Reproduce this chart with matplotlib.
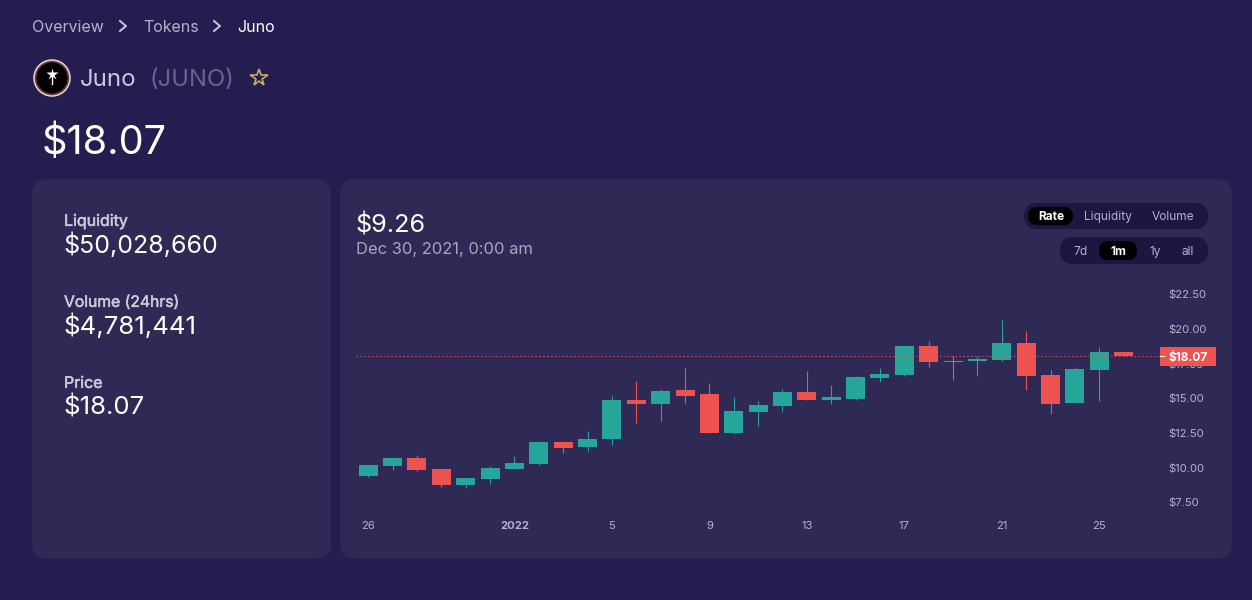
# Juno token page, candlestick chart with the page furniture around it
import matplotlib
matplotlib.use('Agg')
import matplotlib.pyplot as plt
import matplotlib.patheffects as pe
from matplotlib.patches import FancyBboxPatch, Circle, Rectangle

plt.rcParams['font.family'] = ['Inter', 'DejaVu Sans']

# daily candles, Dec 26 2021 to Jan 26 2022
opens = [9.42, 10.15, 10.70, 9.91, 8.78, 9.21, 9.93, 10.29, 11.85, 11.52, 12.09, 14.88, 14.62, 15.60, 15.31, 12.52,
         14.04, 14.47, 15.46, 14.90, 14.97, 16.49, 16.70, 18.77, 17.69, 17.71, 17.79, 18.99, 16.68, 14.69, 17.07, 18.34]
closes = [10.19, 10.70, 9.86, 8.78, 9.26, 9.98, 10.34, 11.85, 11.44, 12.07, 14.88, 14.62, 15.53, 15.19, 12.52, 14.09,
          14.52, 15.46, 14.90, 15.09, 16.54, 16.75, 18.77, 17.64, 17.64, 17.83, 18.99, 16.63, 14.61, 17.11, 18.34, 18.07]
highs = [10.19, 10.77, 10.91, 9.91, 9.26, 10.12, 10.84, 11.92, 11.92, 12.65, 15.17, 16.25, 15.67, 17.19, 16.11, 15.10,
         14.81, 15.67, 16.97, 15.96, 16.61, 17.19, 18.77, 19.13, 18.05, 18.05, 20.65, 19.85, 17.04, 17.26, 18.70, 18.34]
lows = [9.35, 9.86, 9.76, 8.63, 8.56, 8.85, 9.93, 10.19, 11.08, 11.23, 11.66, 13.25, 13.39, 14.69, 12.52, 12.45,
        13.03, 14.11, 14.90, 14.61, 14.90, 16.20, 16.63, 17.28, 16.34, 16.63, 17.71, 15.62, 13.89, 14.69, 14.83, 18.07]
x_ticks = [0, 6, 10, 14, 18, 22, 26, 30]
x_labels = ['26', '2022', '5', '9', '13', '17', '21', '25']
y_ticks = [7.5, 10, 12.5, 15, 17.5, 20, 22.5]
last_price = 18.07

PAGE = '#241e50'
PANEL = '#2f2955'
PILL = '#1e1640'
TEAL = '#26a69a'
RED = '#ef5350'
MUTED = '#b5b2cb'

W, H = 1252, 600
fig = plt.figure(figsize=(W / 100, H / 100), dpi=100, facecolor=PAGE)

# page layer in pixel coordinates
page = fig.add_axes([0, 0, 1, 1])
page.set_xlim(0, W)
page.set_ylim(H, 0)
page.axis('off')


def box(x0, y0, x1, y1, r, color):
    page.add_patch(FancyBboxPatch((x0 + r, y0 + r), x1 - x0 - 2 * r, y1 - y0 - 2 * r,
                                  boxstyle='round,pad=%d,rounding_size=%d' % (r, r),
                                  fc=color, ec='none', lw=0))


def label(x, y, s, size, color='white', ha='left', weight='normal', thick=False):
    # va center sits a bit high for this font, so nudge by size
    t = page.text(x, y + size * 0.12, s, fontsize=size, color=color, ha=ha, va='center', fontweight=weight)
    if thick:
        t.set_path_effects([pe.withStroke(linewidth=0.4, foreground=color)])


box(32, 179, 331, 559, 16, PANEL)
box(340, 179, 1232, 559, 16, PANEL)

# breadcrumb
label(32, 26, 'Overview', 11.5, MUTED)
label(143, 26, 'Tokens', 11.5, MUTED)
label(237, 26, 'Juno', 11.5, 'white')
for cx in [123, 217]:
    page.plot([cx - 3, cx + 3, cx - 3], [21, 26, 31], color='#c9c7d8', lw=1.4)

# title row
page.add_patch(Circle((52, 78), 18, fc='#6b3a3a', ec='#e6d8d4', lw=1.1))
page.add_patch(Circle((52, 78), 15.5, fc='black', ec='none'))
page.plot([52], [74], marker='*', ms=9, color='white', mec='none')
page.plot([52, 52], [76, 84], color='white', lw=1)
label(80, 78, 'Juno', 17.3, '#c9c7e0')
label(149.5, 78, '(JUNO)', 17.1, '#68648c')
page.plot([259], [78], marker='*', ms=13, mfc='none', mec='#c8a96a', mew=1.2)
label(42, 140, '$18.07', 28.6)

# left card
label(64, 220, 'Liquidity', 11.5, '#c9c7d8', thick=True)
label(63, 243.5, '$50,028,660', 18)
label(64, 301, 'Volume (24hrs)', 11.3, '#c9c7d8', thick=True)
label(63, 324.5, '$4,781,441', 18.6)
label(64, 382, 'Price', 11.5, '#c9c7d8', thick=True)
label(63, 405, '$18.07', 18.6)

# chart header
label(355, 223, '$9.26', 18.2)
label(356, 248, 'Dec 30, 2021, 0:00 am', 11.9, '#a9a6c0')

# toggles
box(1024, 203, 1208, 229, 13, PILL)
box(1028, 207, 1073, 225, 9, 'black')
label(1051, 216, 'Rate', 8.6, 'white', 'center', 'bold')
label(1108, 216, 'Liquidity', 8.6, MUTED, 'center')
label(1173, 216, 'Volume', 8.6, MUTED, 'center')
box(1060, 237, 1208, 264, 13, PILL)
box(1099, 241, 1137, 260, 9, 'black')
label(1081, 251, '7d', 8.6, MUTED, 'center')
label(1118, 251, '1m', 8.6, 'white', 'center', 'bold')
label(1155, 251, '1y', 8.6, MUTED, 'center')
label(1188, 251, 'all', 8.6, MUTED, 'center')

# chart layer, 356-1160 px across and 280-520 px down
ax = fig.add_axes([356 / W, 1 - 520 / H, (1160 - 356) / W, (520 - 280) / H])
ax.patch.set_alpha(0)
for s in ax.spines.values():
    s.set_visible(False)
ax.set_xlim(-0.5, 32.49)
ax.set_ylim(6.23, 23.53)

for i in range(len(opens)):
    c = TEAL if closes[i] > opens[i] else RED
    ax.vlines(i, lows[i], highs[i], color=c, lw=0.8, zorder=2)
    ax.bar(i, abs(closes[i] - opens[i]), bottom=min(opens[i], closes[i]), width=0.78, color=c, lw=0, zorder=3)

ax.axhline(last_price, color=RED, lw=0.8, ls=(0, (1.5, 2)), alpha=0.8, zorder=4)

ax.yaxis.tick_right()
ax.set_yticks(y_ticks)
ax.set_yticklabels(['$%.2f' % v for v in y_ticks], fontsize=8.1, color=MUTED)
ax.tick_params(axis='y', length=0, pad=6)
ax.set_xticks(x_ticks)
ax.set_xticklabels(x_labels, fontsize=8.1, color=MUTED)
ax.get_xticklabels()[1].set_fontweight('bold')
ax.tick_params(axis='x', length=0, pad=1)

# last price tag on top of the axis labels
fig.add_artist(Rectangle((1160 / W, 1 - 366 / H), 56 / W, 19 / H, transform=fig.transFigure, fc=RED, ec='none', zorder=5))
fig.text(1188 / W, 1 - 357.5 / H, '$%.2f' % last_price, fontsize=8.6, color='white', fontweight='bold',
         ha='center', va='center', zorder=6)
fig.add_artist(plt.Line2D([1160 / W, 1164 / W], [1 - 356 / H, 1 - 356 / H], color='white', lw=0.8, zorder=6))

fig.savefig('out.png', dpi=100, facecolor=PAGE)
